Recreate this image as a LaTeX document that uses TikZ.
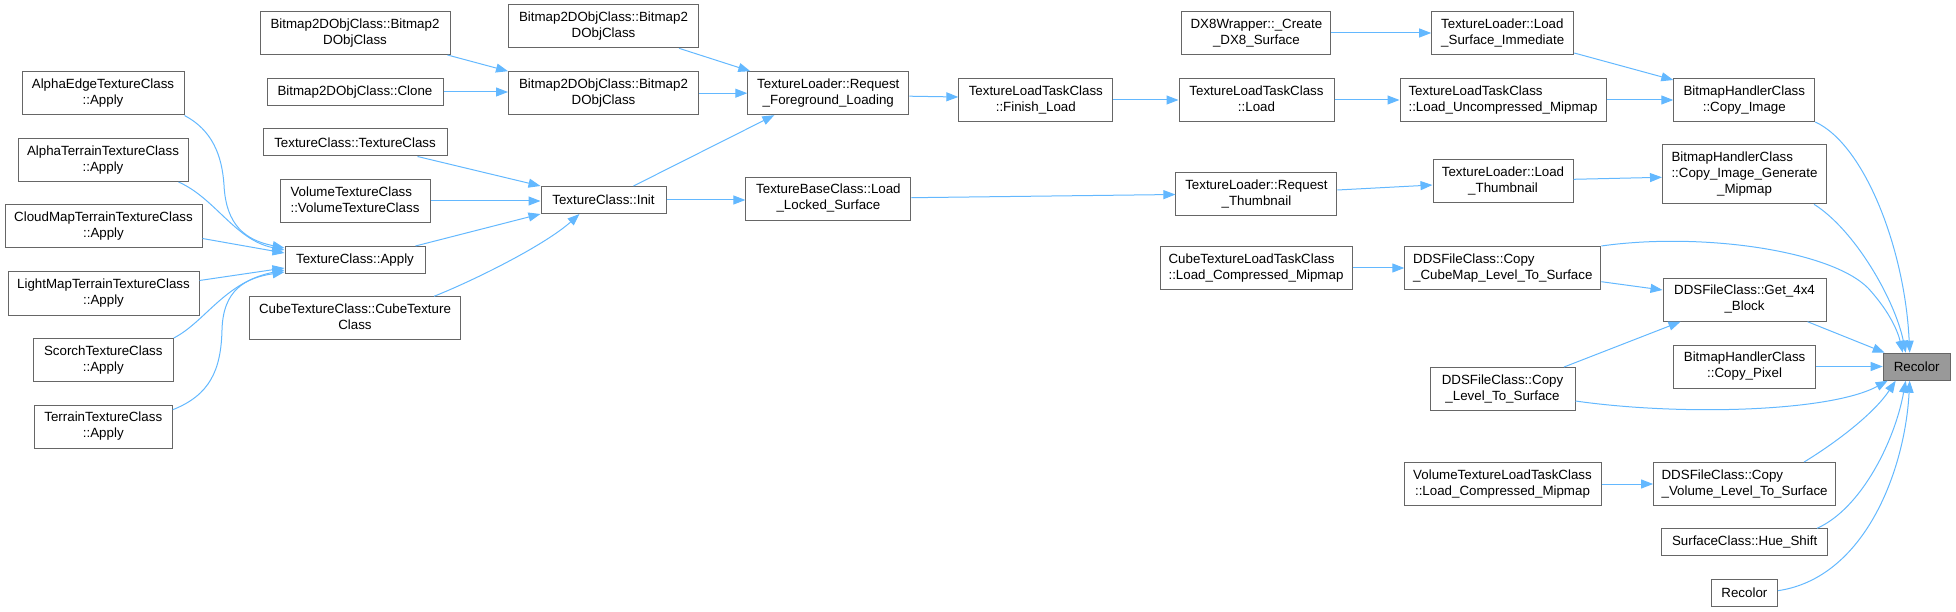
\documentclass[tikz,border=0pt]{standalone}
\usepackage{fontspec}
\setmainfont{Liberation Sans}
\usetikzlibrary{arrows.meta,calc}
\definecolor{edgec}{HTML}{63B8FF}
\definecolor{boxc}{HTML}{666666}
\definecolor{fillc}{HTML}{999999}
\newcommand\twol[2]{\begin{tabular}{@{}l@{}}#1\\\multicolumn{1}{@{}c@{}}{#2}\end{tabular}}
\newcommand\threel[3]{\begin{tabular}{@{}l@{}}#1\\#2\\\multicolumn{1}{@{}c@{}}{#3}\end{tabular}}
\begin{document}
\begin{tikzpicture}[x=1pt,y=-1pt,
  box/.style={draw=boxc,fill=white,line width=1pt,inner sep=0pt,font=\fontsize{13.33}{16}\selectfont},
  nb/.style 2 args={box,minimum width=#1,minimum height=#2},
  edge/.style={draw=edgec,line width=1pt,-{Triangle[length=12pt,width=9pt]}}]
\useasboundingbox (0,0) rectangle (1956,612);
% column 1
\node[nb={162pt}{43pt}] (aet) at (103,93.5) {\twol{AlphaEdgeTextureClass}{::Apply}};
\node[nb={170pt}{43pt}] (att) at (103,160) {\twol{AlphaTerrainTextureClass}{::Apply}};
\node[nb={197pt}{43pt}] (cmt) at (103.5,226.5) {\twol{CloudMapTerrainTextureClass}{::Apply}};
\node[nb={191pt}{43pt}] (lmt) at (103.5,293.5) {\twol{LightMapTerrainTextureClass}{::Apply}};
\node[nb={140pt}{43pt}] (sct) at (103.3,360) {\twol{ScorchTextureClass}{::Apply}};
\node[nb={138pt}{43pt}] (trt) at (103.3,426.7) {\twol{TerrainTextureClass}{::Apply}};
% column 2
\node[nb={190pt}{43pt}] (b2a) at (355,33) {\twol{Bitmap2DObjClass::Bitmap2}{DObjClass}};
\node[nb={176pt}{27pt}] (b2cl) at (355,92) {Bitmap2DObjClass::Clone};
\node[nb={184pt}{27pt}] (tctc) at (355,142.5) {TextureClass::TextureClass};
\node[nb={150pt}{43pt}] (vtc) at (355,201) {\twol{VolumeTextureClass}{::VolumeTextureClass}};
\node[nb={140pt}{27pt}] (tca) at (355,260) {TextureClass::Apply};
\node[nb={211pt}{43pt}] (ctc) at (355,318.3) {\twol{CubeTextureClass::CubeTexture}{Class}};
% column 3
\node[nb={190pt}{43pt}] (b2b) at (603.5,26.3) {\twol{Bitmap2DObjClass::Bitmap2}{DObjClass}};
\node[nb={190pt}{43pt}] (b2c) at (603.5,93.2) {\twol{Bitmap2DObjClass::Bitmap2}{DObjClass}};
\node[nb={125pt}{27pt}] (init) at (603.5,200) {TextureClass::Init};
% column 4
\node[nb={161pt}{43pt}] (rfl) at (828.3,93.2) {\twol{TextureLoader::Request}{\_Foreground\_Loading}};
\node[nb={165pt}{43pt}] (tbl) at (828.4,198.7) {\twol{TextureBaseClass::Load}{\_Locked\_Surface}};
% column 5
\node[nb={154pt}{43pt}] (fin) at (1035.8,100) {\twol{TextureLoadTaskClass}{::Finish\_Load}};
% column 6
\node[nb={149pt}{43pt}] (dx8) at (1256.4,33) {\twol{DX8Wrapper::\_Create}{\_DX8\_Surface}};
\node[nb={155pt}{43pt}] (tltl) at (1256.5,100) {\twol{TextureLoadTaskClass}{::Load}};
\node[nb={161pt}{43pt}] (rth) at (1256.4,194.5) {\twol{TextureLoader::Request}{\_Thumbnail}};
\node[nb={192pt}{43pt}] (ctl) at (1256,268) {\twol{CubeTextureLoadTaskClass}{::Load\_Compressed\_Mipmap}};
% column 7
\node[nb={142pt}{43pt}] (lsi) at (1502.7,33) {\twol{TextureLoader::Load}{\_Surface\_Immediate}};
\node[nb={206pt}{43pt}] (lum) at (1503,100) {\twol{TextureLoadTaskClass}{::Load\_Uncompressed\_Mipmap}};
\node[nb={140pt}{43pt}] (lth) at (1503,181) {\twol{TextureLoader::Load}{\_Thumbnail}};
\node[nb={196pt}{43pt}] (ccm) at (1502.8,268) {\twol{DDSFileClass::Copy}{\_CubeMap\_Level\_To\_Surface}};
\node[nb={145pt}{43pt}] (clt) at (1502.5,389) {\twol{DDSFileClass::Copy}{\_Level\_To\_Surface}};
\node[nb={197pt}{43pt}] (vtl) at (1502.5,484) {\twol{VolumeTextureLoadTaskClass}{::Load\_Compressed\_Mipmap}};
% column 8
\node[nb={141pt}{43pt}] (cpi) at (1744.3,100) {\twol{BitmapHandlerClass}{::Copy\_Image}};
\node[nb={164pt}{59pt}] (cig) at (1744.5,174.3) {\threel{BitmapHandlerClass}{::Copy\_Image\_Generate}{\_Mipmap}};
\node[nb={163pt}{43pt}] (g44) at (1744.5,299.7) {\twol{DDSFileClass::Get\_4x4}{\_Block}};
\node[nb={142pt}{43pt}] (cpx) at (1744.6,366.5) {\twol{BitmapHandlerClass}{::Copy\_Pixel}};
\node[nb={182pt}{43pt}] (cvl) at (1744.6,484) {\twol{DDSFileClass::Copy}{\_Volume\_Level\_To\_Surface}};
\node[nb={166pt}{27pt}] (hue) at (1744.6,542.3) {SurfaceClass::Hue\_Shift};
\node[nb={66pt}{27pt}] (rc2) at (1744.4,593.2) {Recolor};
% column 9
\node[nb={67pt}{27pt},fill=fillc] (rc) at (1916.7,366.7) {Recolor};
% edges into TextureClass::Apply
\draw[edge] (aet.south east) .. controls (212,130) and (222,155) .. (224,185) .. controls (226,225) and (245,240) .. ($(tca.west)+(0,-12)$);
\draw[edge] ($(att.south east)+(-10,0)$) .. controls (215,198) and (235,240) .. ($(tca.west)+(0,-10)$);
\draw[edge] ($(cmt.east)+(0,12)$) -- ($(tca.west)+(0,-7)$);
\draw[edge] ($(lmt.north east)+(0,9)$) -- ($(tca.west)+(0,8)$);
\draw[edge] (sct.north east) .. controls (205,322) and (225,282) .. ($(tca.west)+(0,10)$);
\draw[edge] ($(trt.north east)+(0,5)$) .. controls (210,395) and (221,370) .. (222,330) .. controls (223,290) and (245,278) .. ($(tca.west)+(0,12)$);
% column 2 -> 3
\draw[edge] ($(b2a.south east)+(-3,0)$) -- (b2c.north west);
\draw[edge] (b2cl.east) -- (b2c.west |- b2cl.east);
\draw[edge] ($(tctc.south east)+(-30,0)$) -- (init.north west);
\draw[edge] (vtc.east) -- (init.west |- vtc.east);
\draw[edge] ($(tca.north east)+(-10,0)$) -- (init.south west);
\draw[edge] ($(ctc.north east)+(-27,0)$) .. controls (475,280) and (545,245) .. ($(init.south west)+(39,0)$);
% column 3 -> 4
\draw[edge] ($(b2b.south east)+(-20,0)$) -- ($(rfl.north west)+(3,0)$);
\draw[edge] (b2c.east) -- (rfl.west |- b2c.east);
\draw[edge] ($(init.north)+(30,0)$) -- ($(rfl.south west)+(27,0)$);
\draw[edge] (init.east) -- (tbl.west |- init.east);
% column 4 -> 6
\draw[edge] ($(rfl.east)+(0,3)$) -- ($(fin.west)+(0,-3)$);
\draw[edge] (fin.east) -- (tltl.west);
\draw[edge] ($(tbl.east)+(0,-1)$) -- (rth.west);
% column 6 -> 7
\draw[edge] (dx8.east) -- (lsi.west);
\draw[edge] (tltl.east) -- (lum.west);
\draw[edge] ($(rth.east)+(0,-4.5)$) -- ($(lth.west)+(0,4)$);
\draw[edge] (ctl.east) -- (ccm.west);
\draw[edge] (vtl.east) -- (cvl.west);
% column 7 -> 8
\draw[edge] ($(lsi.south east)+(0,-2)$) -- ($(cpi.north west)+(0,2)$);
\draw[edge] (lum.east) -- (cpi.west);
\draw[edge] ($(lth.east)+(0,-1.7)$) -- ($(cig.west)+(0,3)$);
\draw[edge] ($(ccm.east)+(0,13.7)$) -- ($(g44.west)+(0,-9.7)$);
\draw[edge] ($(clt.north)+(61.5,0)$) -- ($(g44.south west)+(18,0)$);
% into Recolor
\draw[edge] (ccm.north east) .. controls (1700,232) and (1830,250) .. (1868,288) .. controls (1890,312) and (1898,332) .. ($(rc.north west)+(20,0)$);
\draw[edge] (cpi.south east) .. controls (1865,145) and (1905,250) .. ($(rc.north west)+(27,0)$);
\draw[edge] ($(cig.south east)+(-13,0)$) .. controls (1855,230) and (1895,300) .. ($(rc.north west)+(23,0)$);
\draw[edge] ($(g44.south east)+(-19,0)$) -- ($(rc.north west)+(2,0)$);
\draw[edge] (cpx.east) -- (rc.west |- cpx.east);
\draw[edge] ($(clt.east)+(0,12)$) .. controls (1680,416) and (1830,412) .. ($(rc.south west)+(5,0)$);
\draw[edge] ($(cvl.north east)+(-32,0)$) .. controls (1840,440) and (1875,412) .. ($(rc.south west)+(13,0)$);
\draw[edge] ($(hue.north east)+(-11,0)$) .. controls (1862,508) and (1895,440) .. ($(rc.south west)+(23,0)$);
\draw[edge] ($(rc2.east)+(0,-2.5)$) .. controls (1865,578) and (1905,470) .. ($(rc.south west)+(27,0)$);
\end{tikzpicture}
\end{document}
